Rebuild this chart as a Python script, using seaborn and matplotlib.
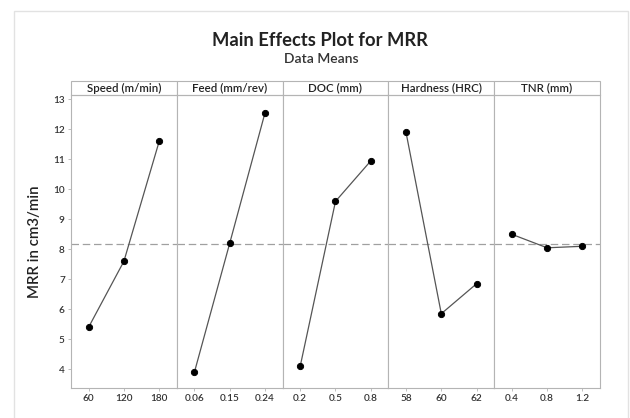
import matplotlib
matplotlib.use("Agg")
import matplotlib.pyplot as plt
import seaborn as sns
from matplotlib.patches import Rectangle

factors = ["Speed (m/min)", "Feed (mm/rev)", "DOC (mm)", "Hardness (HRC)", "TNR (mm)"]
levels = [
    ["60", "120", "180"],
    ["0.06", "0.15", "0.24"],
    ["0.2", "0.5", "0.8"],
    ["58", "60", "62"],
    ["0.4", "0.8", "1.2"],
]
means = [
    [5.4, 7.6, 11.6],
    [3.9, 8.2, 12.55],
    [4.1, 9.6, 10.95],
    [11.9, 5.85, 6.85],
    [8.5, 8.05, 8.1],
]
grand_mean = 8.17
yticks = [4, 5, 6, 7, 8, 9, 10, 11, 12, 13]

sns.set_style("white")
plt.rcParams["font.family"] = ["Lato", "DejaVu Sans"]

W, H = 630, 418
fig, axes = plt.subplots(1, 5, figsize=(W / 100, H / 100), dpi=100, sharey=True)
fig.subplots_adjust(left=71 / W, right=600 / W, top=1 - 95 / H, bottom=1 - 388 / H, wspace=0)

frame_col = "#b4b4b4"
for i, ax in enumerate(axes):
    sns.pointplot(x=levels[i], y=means[i], ax=ax, color="black", markers="o",
                  linestyles="-", linewidth=0.9, markersize=4.5)
    for ln in ax.lines:
        ln.set_color("#555555")
        ln.set_markerfacecolor("black")
        ln.set_markeredgecolor("black")
    ax.axhline(grand_mean, color="#a0a0a0", ls=(0, (6, 3)), lw=0.9, zorder=0)
    ax.set_xlim(-0.5, 2.5)
    ax.set_ylim(3.37, 13.15)
    ax.set_xlabel("")
    ax.set_ylabel("")
    for s in ax.spines.values():
        s.set_color(frame_col)
        s.set_linewidth(0.8)
    ax.tick_params(axis="x", length=2.5, width=0.6, color=frame_col, labelsize=7.2,
                   labelcolor="#333333", pad=2, bottom=True)
    ax.tick_params(axis="y", length=2.5, width=0.6, color=frame_col, labelsize=7.2,
                   labelcolor="#333333", pad=2, left=(i == 0))
    for lab in ax.get_xticklabels() + ax.get_yticklabels():
        lab.set_fontweight("semibold")
    # panel header box
    hdr = Rectangle((0, 1.0), 1, 14 / 293, transform=ax.transAxes, clip_on=False,
                    facecolor="white", edgecolor=frame_col, lw=0.8)
    ax.add_patch(hdr)
    ax.text(0.5, 1.0 + 7 / 293, factors[i], transform=ax.transAxes, ha="center",
            va="center", fontsize=8.3, color="#222222", fontweight="semibold")

axes[0].set_yticks(yticks)
axes[0].set_yticklabels([str(t) for t in yticks], fontweight="semibold")
axes[0].set_ylabel("MRR in cm3/min", fontsize=10.8, color="#222222", labelpad=8,
                   fontweight="semibold")

fig.text(320 / W, 1 - 40 / H, "Main Effects Plot for MRR", ha="center",
         va="center", fontsize=13.2, fontweight="bold", color="#222222")
fig.text(321 / W, 1 - 59 / H, "Data Means", ha="center", va="center",
         fontsize=10, fontweight="semibold", color="#333333")

fig.patches.append(Rectangle((14 / W, -0.05), (628 - 14) / W, 1.05 - 11 / H,
                             transform=fig.transFigure, fill=False,
                             edgecolor="#e2e2e2", lw=1.0))

fig.savefig("out.png", dpi=100)
